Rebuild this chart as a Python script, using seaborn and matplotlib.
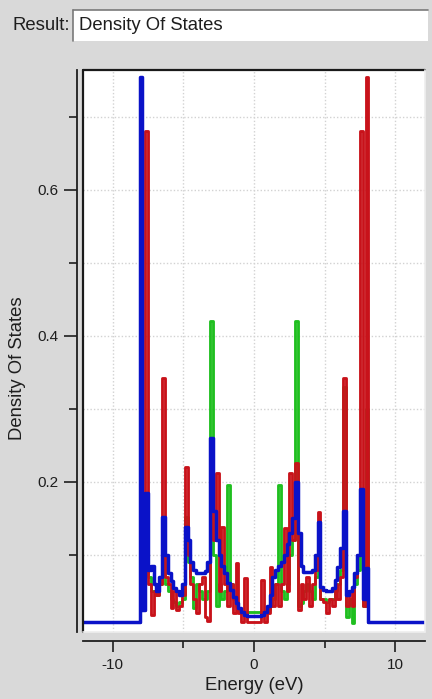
import numpy as np
import pandas as pd
import matplotlib
matplotlib.use("Agg")
import matplotlib.pyplot as plt
import seaborn as sns
from matplotlib.patches import Rectangle
from matplotlib.lines import Line2D

# Energy grid (eV) inside the band, 0.2 eV sampling
energy = np.round(np.arange(-8.2, 8.2001, 0.2), 1)
e_min, e_max = -12.1, 12.1
baseline = 0.008

dos_green = [
    0.008, 0.3, 0.03, 0.15, 0.07, 0.05, 0.05, 0.045, 0.06, 0.12,
    0.06, 0.05, 0.04, 0.035, 0.03, 0.035, 0.04, 0.152, 0.09, 0.07,
    0.027, 0.06, 0.05, 0.04, 0.04, 0.05, 0.42, 0.10, 0.03, 0.06,
    0.04, 0.05, 0.196, 0.06, 0.04, 0.03, 0.025, 0.022, 0.022, 0.022,
    0.022, 0.022, 0.022, 0.022, 0.022, 0.022, 0.025, 0.03, 0.04, 0.06,
    0.196, 0.05, 0.04, 0.06, 0.10, 0.12, 0.42, 0.03, 0.034, 0.05,
    0.06, 0.05, 0.04, 0.07, 0.12, 0.04, 0.04, 0.035, 0.04, 0.04,
    0.05, 0.06, 0.08, 0.33, 0.015, 0.04, 0.007, 0.06, 0.08, 0.15,
    0.03, 0.3, 0.008,
]

dos_red = [
    0.008, 0.15, 0.025, 0.68, 0.06, 0.018, 0.05, 0.045, 0.06, 0.342,
    0.07, 0.06, 0.028, 0.05, 0.025, 0.03, 0.045, 0.22, 0.10, 0.06,
    0.04, 0.02, 0.06, 0.07, 0.015, 0.01, 0.2, 0.12, 0.212, 0.05,
    0.138, 0.06, 0.03, 0.06, 0.02, 0.089, 0.02, 0.008, 0.068, 0.008,
    0.008, 0.008, 0.008, 0.008, 0.066, 0.008, 0.02, 0.083, 0.03, 0.06,
    0.03, 0.06, 0.137, 0.05, 0.212, 0.12, 0.226, 0.025, 0.06, 0.04,
    0.07, 0.03, 0.06, 0.08, 0.159, 0.04, 0.035, 0.02, 0.04, 0.03,
    0.06, 0.04, 0.07, 0.342, 0.03, 0.05, 0.03, 0.07, 0.1, 0.68,
    0.03, 0.755, 0.008,
]

dos_blue = [
    0.008, 0.755, 0.025, 0.185, 0.08, 0.085, 0.06, 0.05, 0.07, 0.152,
    0.10, 0.075, 0.065, 0.055, 0.05, 0.045, 0.06, 0.138, 0.12, 0.09,
    0.08, 0.075, 0.075, 0.075, 0.078, 0.09, 0.26, 0.16, 0.12, 0.10,
    0.085, 0.075, 0.062, 0.052, 0.042, 0.034, 0.027, 0.022, 0.018, 0.016,
    0.016, 0.016, 0.016, 0.016, 0.018, 0.022, 0.03, 0.045, 0.07, 0.08,
    0.085, 0.09, 0.1, 0.115, 0.13, 0.15, 0.2, 0.13, 0.085, 0.077,
    0.077, 0.077, 0.08, 0.1, 0.145, 0.056, 0.052, 0.05, 0.05, 0.055,
    0.066, 0.083, 0.11, 0.16, 0.045, 0.05, 0.056, 0.075, 0.1, 0.19,
    0.04, 0.082, 0.008,
]

series = [
    ("green", dos_green, "#1fbf1f", 2.05),
    ("red", dos_red, "#c8121a", 2.05),
    ("blue", dos_blue, "#0a12c8", 2.5),
]

sns.set_style("white")
plt.rcParams["font.family"] = ["Liberation Sans", "DejaVu Sans"]
plt.rcParams["text.color"] = "#1e1e1e"

bg = "#d9d9d9"
W, H = 432, 699
fig = plt.figure(figsize=(W / 100, H / 100), dpi=100, facecolor=bg)


def fx(px):
    return px / W


def fy(py):
    return 1 - py / H


# Result header with sunken text field
fig.text(fx(12), fy(25), "Result:", fontsize=13.3, va="center", ha="left")
fig.add_artist(Rectangle((fx(73), fy(41)), fx(428) - fx(73), fy(10) - fy(41),
                         transform=fig.transFigure, facecolor="white",
                         edgecolor="none"))
fig.add_artist(Line2D([fx(73), fx(428)], [fy(10), fy(10)],
                      transform=fig.transFigure, color="#7a7a7a", lw=1.2))
fig.add_artist(Line2D([fx(73), fx(73)], [fy(10), fy(41)],
                      transform=fig.transFigure, color="#7a7a7a", lw=1.2))
fig.text(fx(79), fy(25), "Density Of States", fontsize=13.3,
         va="center", ha="left")

# Plot area
ax = fig.add_axes([fx(83), fy(632), fx(425) - fx(83), fy(70) - fy(632)])
ax.set_facecolor("white")

for name, vals, color, lw in series:
    df = pd.DataFrame({
        "Energy": np.concatenate([[e_min], energy, [e_max]]),
        "DOS": np.concatenate([[baseline], vals, [baseline]]),
    })
    sns.lineplot(data=df, x="Energy", y="DOS", ax=ax, color=color,
                 linewidth=lw, estimator=None, sort=False, legend=False,
                 drawstyle="steps-mid")

ax.set_xlim(e_min, e_max)
ax.set_ylim(-0.0055, 0.764)

ax.set_xticks([-10, 0, 10])
ax.set_xticklabels(["-10", "0", "10"])
ax.set_xticks([-5, 5], minor=True)
ax.set_yticks([0.2, 0.4, 0.6])
ax.set_yticklabels(["0.2", "0.4", "0.6"])
ax.set_yticks([0.1, 0.3, 0.5, 0.7], minor=True)

ax.set_axisbelow(True)
ax.grid(which="both", color="#d2d2d2", linestyle=(0, (1, 1.5)), linewidth=1.0)

for side in ("top", "right"):
    ax.spines[side].set_visible(False)
ax.spines["left"].set_position(("outward", 4.3))
ax.spines["bottom"].set_position(("outward", 6.5))
for side in ("left", "bottom"):
    ax.spines[side].set_color("#1e1e1e")
    ax.spines[side].set_linewidth(1.3)

ax.tick_params(axis="both", which="both", direction="out", colors="#1e1e1e",
               labelsize=11, width=1.2, left=True, bottom=True,
               right=False, top=False)
ax.tick_params(axis="y", which="major", length=9.5, pad=4)
ax.tick_params(axis="y", which="minor", length=6)
ax.tick_params(axis="x", which="major", length=8, pad=4)
ax.tick_params(axis="x", which="minor", length=5)
ax.set_xlabel("")
ax.set_ylabel("")

# Sunken frame around the plot area
ax.add_line(Line2D([0, 0], [0, 1], transform=ax.transAxes, color="#1a1a1a",
                   lw=1.6, clip_on=False))
ax.add_line(Line2D([0, 1], [1, 1], transform=ax.transAxes, color="#1a1a1a",
                   lw=1.6, clip_on=False))
ax.add_line(Line2D([1, 1], [0, 1], transform=ax.transAxes, color="#eeeeee",
                   lw=1.2, clip_on=False))
ax.add_line(Line2D([0, 1], [0, 0], transform=ax.transAxes, color="#eeeeee",
                   lw=1.2, clip_on=False))

fig.text(fx(254), fy(686), "Energy (eV)", fontsize=13.3, ha="center",
         va="center")
fig.text(fx(18), fy(368), "Density Of States", fontsize=13.3, ha="center",
         va="center", rotation=90)

fig.savefig("out.png", dpi=100, facecolor=bg)
